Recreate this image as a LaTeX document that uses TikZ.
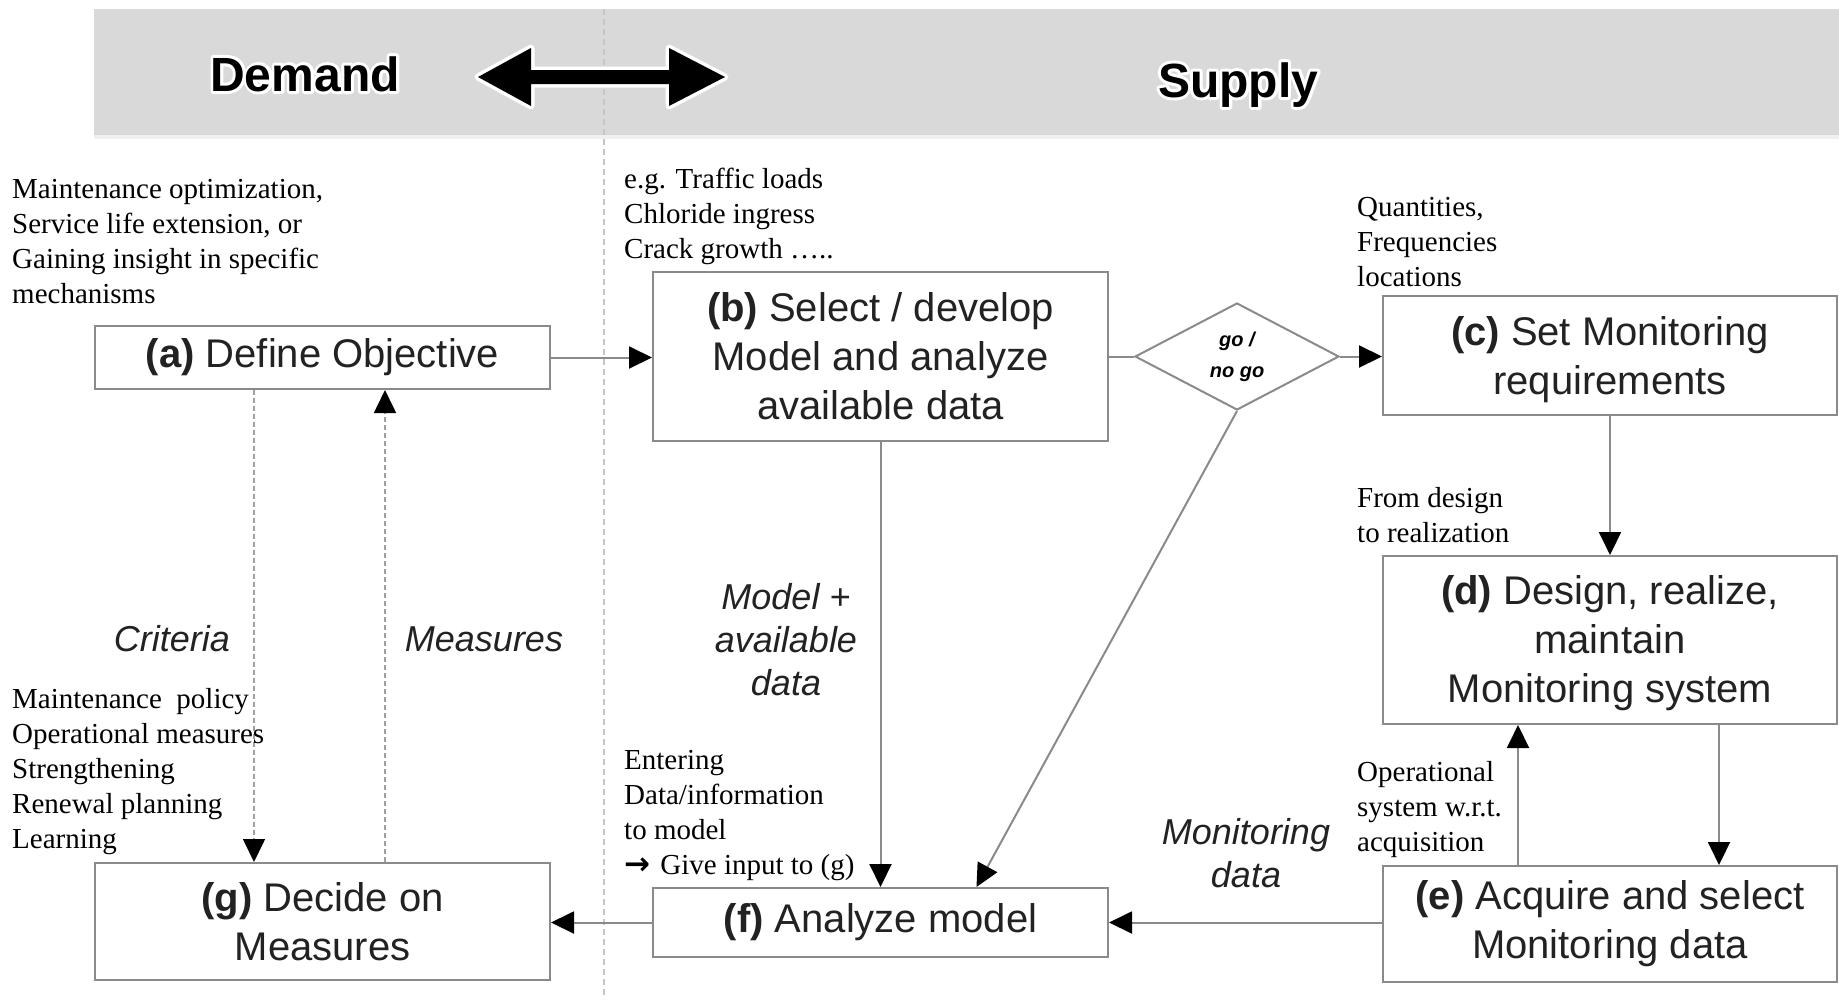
\documentclass[tikz,border=0pt]{standalone}
\usepackage{fontspec}
\setmainfont{Liberation Serif}
\newfontfamily\arialfont{Liberation Sans}
\newfontfamily\symbolfont{DejaVu Sans}
\usetikzlibrary{arrows.meta,shapes.geometric,calc}

\definecolor{bannergray}{HTML}{D9D9D9}
\definecolor{linegray}{HTML}{8A8A8A}
\definecolor{boxtext}{HTML}{222222}
\definecolor{dividergray}{HTML}{C6C6C6}
\definecolor{dashgray}{HTML}{A0A0A0}

% text with a white glow: a stroked-only white pass, then the normal fill
\newcommand\glowtext[1]{%
  \rlap{\special{pdf:literal direct 1 Tr 6 w 1 j 1 1 1 RG}#1\special{pdf:literal direct 0 Tr}}%
  #1}

\begin{document}
\begin{tikzpicture}[x=1pt,y=-1pt,
  stepbox/.style={draw=linegray, line width=2pt, fill=white, inner sep=0pt,
    align=center, text=boxtext, font=\arialfont\fontsize{40}{49}\selectfont},
  note/.style={anchor=north west, inner sep=0pt, align=left,
    font=\fontsize{29}{35}\selectfont},
  flowlabel/.style={inner sep=0pt, align=center, text=boxtext,
    font=\arialfont\itshape\fontsize{36}{43}\selectfont},
  headline/.style={inner sep=0pt, anchor=base,
    font=\arialfont\bfseries\fontsize{48}{56}\selectfont},
  tip/.style={-{Triangle[length=23pt,width=22pt,color=black]}},
  flow/.style={draw=linegray, line width=2pt, tip},
  link/.style={draw=linegray, line width=2pt},
  feedback/.style={draw=dashgray, line width=1.6pt, dash pattern=on 5pt off 3pt, tip},
]
\useasboundingbox (0,0) rectangle (1839,999);

% header band
\fill[bannergray] (94,9) rectangle (1839,135);
\fill[black!6] (94,135) rectangle (1839,139);

% demand / supply divider
\draw[dividergray, line width=2pt, dash pattern=on 6pt off 4pt] (604,9) -- (604,999);

\node[headline] (demand) at (305,91) {\glowtext{Demand}};
\node[headline] (supply) at (1238,97) {\glowtext{Supply}};

% double-headed arrow between demand and supply
\def\dblarrow{(478,77) -- (531,48) -- (531,70) -- (669,70) -- (669,48) -- (725,77)
  -- (669,106) -- (669,84) -- (531,84) -- (531,106) -- cycle}
\draw[white, line width=7pt, line join=round] \dblarrow;
\fill[black] \dblarrow;

% process steps
\node[stepbox, minimum width=455pt, minimum height=63pt] (a) at (322.5,357.5)
  {\textbf{(a)} Define Objective};
\node[stepbox, minimum width=455pt, minimum height=169pt] (b) at (880.5,356.5)
  {\textbf{(b)} Select / develop\\Model and analyze\\available data};
\node[diamond, draw=linegray, line width=2pt, inner sep=0pt, align=center,
  minimum width=204pt, minimum height=107pt, text=black,
  font=\arialfont\bfseries\itshape\fontsize{20}{31}\selectfont] (gng) at (1237,356.5)
  {go /\\no go};
\node[stepbox, minimum width=454pt, minimum height=119pt] (c) at (1610,355.5)
  {\rule{0pt}{38pt}\textbf{(c)} Set Monitoring\\requirements};
\node[stepbox, minimum width=454pt, minimum height=168pt] (d) at (1610,640)
  {\rule{0pt}{36pt}\textbf{(d)} Design, realize,\\maintain\\Monitoring system};
\node[stepbox, minimum width=454pt, minimum height=116pt] (e) at (1610,924)
  {\textbf{(e)} Acquire and select\\Monitoring data};
\node[stepbox, minimum width=455pt, minimum height=69pt] (f) at (880.5,922.5)
  {\textbf{(f)} Analyze model};
\node[stepbox, minimum width=455pt, minimum height=117pt] (g) at (322.5,921.5)
  {\textbf{(g)} Decide on\\Measures};

% columns of the vertical connectors
\coordinate (critx) at (254,0);
\coordinate (measx) at (385,0);
\coordinate (downx) at (1719,0);
\coordinate (upx) at (1518,0);

% connectors
\draw[flow] (a.east) -- (a.east -| b.west);
\draw[link] (b.east) -- (gng.west);
\draw[flow] (gng.east) -- (gng.east -| c.west);
\draw[flow] (c.south) -- (d.north);
\draw[flow] (d.south -| downx) -- (e.north -| downx);
\draw[flow] (e.north -| upx) -- (d.south -| upx);
\draw[flow] (f.east -| e.west) -- (f.east);
\draw[flow] (f.west) -- (f.west -| g.east);
\draw[flow] (b.south) -- (f.north);
\draw[flow] (gng.south) -- ($(f.north west)!0.71!(f.north east)$);
\draw[feedback] (a.south -| critx) -- (g.north -| critx);
\draw[feedback] (g.north -| measx) -- (a.south -| measx);

% connector labels
\node[flowlabel] (crit) at (172,639) {Criteria};
\node[flowlabel] (meas) at (484,639) {Measures};
\node[flowlabel] (mad) at (786,640) {Model +\\available\\data};
\node[flowlabel] (mdata) at (1246,853) {Monitoring\\data};

% annotations
\node[note] (objnote) at (12,173.5)
  {\strut Maintenance optimization,\\Service life extension, or\\Gaining insight in specific\\mechanisms};
\node[note] (modnote) at (624,163.5)
  {\strut e.g. Traffic loads\\Chloride ingress\\Crack growth …..};
\node[note] (reqnote) at (1357,191.5)
  {\strut Quantities,\\Frequencies\\locations};
\node[note] (realnote) at (1357,482.5)
  {\strut From design\\to realization};
\node[note] (opnote) at (1357,756.5)
  {\strut Operational\\system w.r.t.\\acquisition};
\node[note] (entnote) at (624,744.5)
  {\strut Entering\\Data/information\\to model\\{\symbolfont\bfseries\fontsize{31}{35}\selectfont →}\kern3pt\ Give input to (g)};
\node[note] (measnote) at (12,683.5)
  {\strut Maintenance~ policy\\Operational measures\\Strengthening\\Renewal planning\\Learning};
\end{tikzpicture}
\end{document}
